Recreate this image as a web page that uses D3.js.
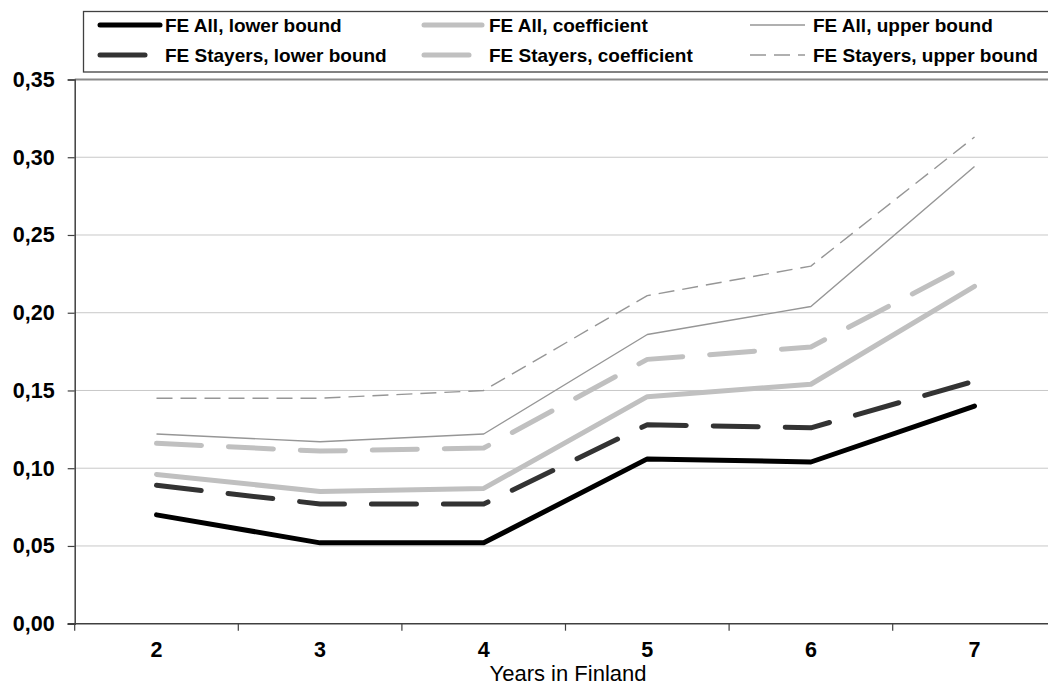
<!DOCTYPE html>
<html>
<head>
<meta charset="utf-8">
<script src="https://cdn.jsdelivr.net/npm/d3@7"></script>
<style>
  html, body { margin: 0; padding: 0; background: #fff; overflow: hidden; }
  svg { display: block; font-family: "Liberation Sans", Arial, sans-serif; }
</style>
</head>
<body>
<div id="plot"></div>
<script>
// Years in Finland (categories)
const years = [2, 3, 4, 5, 6, 7];

// Series values
const allLower = [0.070, 0.052, 0.052, 0.106, 0.104, 0.140];
const allCoef = [0.096, 0.085, 0.087, 0.146, 0.154, 0.217];
const allUpper = [0.122, 0.117, 0.122, 0.186, 0.204, 0.294];
const stayLower = [0.089, 0.077, 0.077, 0.128, 0.126, 0.156];
const stayCoef = [0.116, 0.111, 0.113, 0.170, 0.178, 0.233];
const stayUpper = [0.145, 0.145, 0.150, 0.211, 0.230, 0.313];

const yTicks = [0, 0.05, 0.10, 0.15, 0.20, 0.25, 0.30, 0.35];

const width = 1048;
const height = 684;
const margin = {top: 79.5, left: 74.7, bottom: 60.3};

// styles per series
const series = [
  {name: "FE All, lower bound", values: allLower, color: "#000000", w: 5, dash: null, col: 0, row: 0},
  {name: "FE All, coefficient", values: allCoef, color: "#c0c0c0", w: 5, dash: null, col: 1, row: 0},
  {name: "FE All, upper bound", values: allUpper, color: "#969696", w: 1.4, dash: null, col: 2, row: 0},
  {name: "FE Stayers, lower bound", values: stayLower, color: "#333333", w: 5, dash: "45,27", col: 0, row: 1},
  {name: "FE Stayers, coefficient", values: stayCoef, color: "#c0c0c0", w: 5, dash: "45,27", col: 1, row: 1},
  {name: "FE Stayers, upper bound", values: stayUpper, color: "#969696", w: 1.4, dash: "16,8", col: 2, row: 1}
];

const svg = d3.select("#plot").append("svg")
  .attr("width", width)
  .attr("height", height);

// 6 categories of ~163.6px each, the last one runs past the right edge
const x = d3.scaleBand(years, [margin.left, margin.left + 6 * 163.6]);
const y = d3.scaleLinear([0, 0.35], [height - margin.bottom, margin.top]);
const cx = d => x(d) + x.bandwidth() / 2;

// gridlines
svg.append("g")
  .selectAll("line")
  .data(yTicks.slice(1, -1))
  .join("line")
    .attr("x1", margin.left).attr("x2", width)
    .attr("y1", d => y(d)).attr("y2", d => y(d))
    .attr("stroke", "#c8c8c8")
    .attr("stroke-width", 1);

// plot area top border
svg.append("line")
  .attr("x1", margin.left).attr("x2", width)
  .attr("y1", y(0.35)).attr("y2", y(0.35))
  .attr("stroke", "#8a8a8a")
  .attr("stroke-width", 2);

// y axis
const yAxis = d3.axisLeft(y)
  .tickValues(yTicks)
  .tickSizeOuter(0)
  .tickSize(7)
  .tickPadding(13)
  .tickFormat(d => d3.format(".2f")(d).replace(".", ","));
svg.append("g")
  .attr("transform", `translate(${margin.left},0)`)
  .call(yAxis)
  .call(g => g.select(".domain").attr("stroke", "#404040").attr("stroke-width", 1.5))
  .call(g => g.selectAll(".tick line").attr("stroke", "#404040").attr("stroke-width", 1.2))
  .call(g => g.selectAll("text")
    .attr("font-size", 21.5).attr("font-weight", "bold").attr("fill", "#000")
    .attr("font-family", "Liberation Sans, Arial, sans-serif"));

// x axis with ticks at the category boundaries
const xg = svg.append("g")
  .attr("transform", `translate(0,${y(0)})`);
xg.append("line")
  .attr("x1", margin.left - 7).attr("x2", width)
  .attr("stroke", "#404040").attr("stroke-width", 1.5);
xg.selectAll(".tk")
  .data(years)
  .join("line")
    .attr("class", "tk")
    .attr("x1", d => x(d)).attr("x2", d => x(d))
    .attr("y1", 0).attr("y2", 7)
    .attr("stroke", "#404040").attr("stroke-width", 1.2);
xg.selectAll("text")
  .data(years)
  .join("text")
    .attr("x", cx)
    .attr("y", 33.5)
    .attr("text-anchor", "middle")
    .attr("font-size", 21.5)
    .attr("font-weight", "bold")
    .text(d => d);

svg.append("text")
  .attr("x", 568)
  .attr("y", 680.5)
  .attr("text-anchor", "middle")
  .attr("font-size", 22)
  .text("Years in Finland");

// lines
const line = d3.line()
  .x((d, i) => cx(years[i]))
  .y(d => y(d));

svg.append("g")
  .selectAll("path")
  .data(series)
  .join("path")
    .attr("d", d => line(d.values))
    .attr("fill", "none")
    .attr("stroke", d => d.color)
    .attr("stroke-width", d => d.w)
    .attr("stroke-dasharray", d => d.dash)
    .attr("stroke-linecap", d => d.w > 2 ? "round" : "butt")
    .attr("stroke-linejoin", "round");

// legend
const legend = svg.append("g");
legend.append("rect")
  .attr("x", 83.5).attr("y", 11.5)
  .attr("width", 1000).attr("height", 60.5)
  .attr("fill", "#fff")
  .attr("stroke", "#404040")
  .attr("stroke-width", 1.3);

const colX = [100, 424, 750];
const sampleLen = [60, 58, 55];
const items = legend.selectAll(".item")
  .data(series)
  .join("g")
    .attr("class", "item")
    .attr("transform", d => `translate(${colX[d.col]},${d.row === 0 ? 25 : 55})`);
items.append("line")
  .attr("x1", 0)
  .attr("x2", d => sampleLen[d.col])
  .attr("stroke", d => d.color)
  .attr("stroke-width", d => d.w)
  .attr("stroke-dasharray", d => d.dash)
  .attr("stroke-linecap", d => d.w > 2 ? "round" : "butt");
items.append("text")
  .attr("x", d => d.col === 2 ? 63 : 65)
  .attr("y", 6.5)
  .attr("font-size", 19)
  .attr("font-weight", "bold")
  .text(d => d.name);
</script>
</body>
</html>
